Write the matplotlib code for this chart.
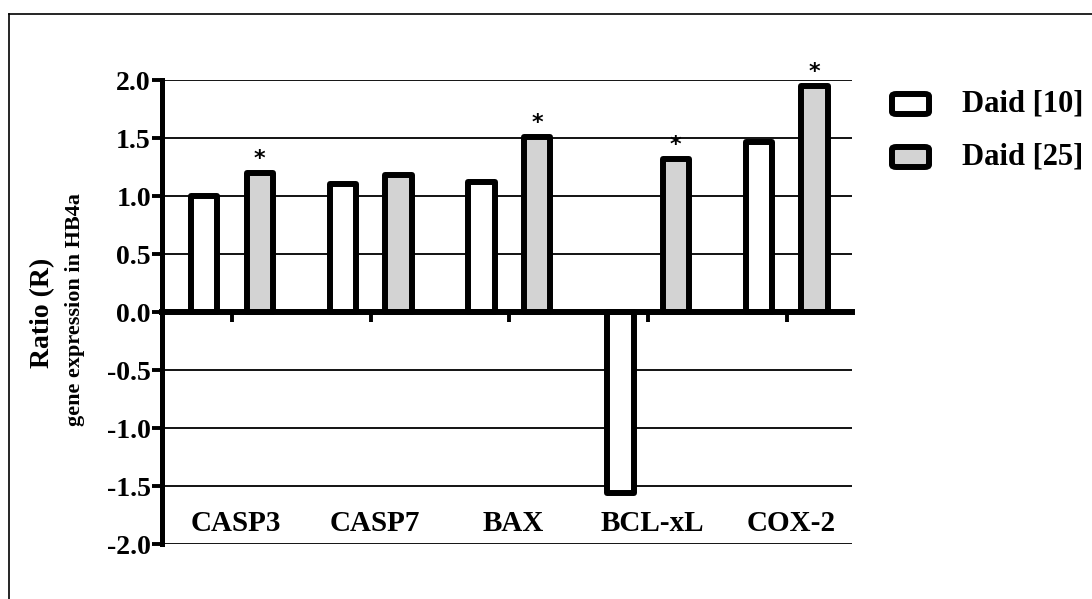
import matplotlib.pyplot as plt
from matplotlib import patches
from matplotlib.lines import Line2D
import numpy as np

# Data
genes = ["CASP3", "CASP7", "BAX", "BCL-xL", "COX-2"]
daid_10 = [1.00, 1.10, 1.12, -1.56, 1.47]
daid_25 = [1.20, 1.18, 1.51, 1.32, 1.95]
signif_25 = [True, False, True, True, True]
series_names = ["Daid [10]", "Daid [25]"]

# Style
SERIF = ["Liberation Serif", "DejaVu Serif"]
BAR_W = 0.19
OFFSET = 0.2
EDGE_W = 4.3
GREY = "#d3d3d3"

fig = plt.figure(figsize=(10.92, 5.99), dpi=100)
ax = fig.add_axes([0.1484, 0.0918, 0.6318, 0.7746])

x = np.arange(len(genes))
ax.bar(x - OFFSET, daid_10, width=BAR_W, color="white", edgecolor="black",
       linewidth=EDGE_W, zorder=3, joinstyle="round")
ax.bar(x + OFFSET, daid_25, width=BAR_W, color=GREY, edgecolor="black",
       linewidth=EDGE_W, zorder=3, joinstyle="round")

for xi, v, s in zip(x, daid_25, signif_25):
    if s:
        ax.text(xi + OFFSET, v + 0.03, "*", ha="center", va="bottom",
                fontsize=16, fontweight="bold", family="DejaVu Sans")

ax.set_xlim(-0.504, 4.47)
ax.set_ylim(-2.0, 2.0)
ax.set_yticks(np.arange(-2.0, 2.01, 0.5))
ax.set_yticklabels([f"{t:.1f}" for t in np.arange(-2.0, 2.01, 0.5)],
                   family=SERIF, fontweight="bold", fontsize=20)
ax.set_xticks(x)
ax.set_xticklabels([])

for t in np.arange(-2.0, 2.01, 0.5):
    if abs(t) > 1e-9:
        ax.axhline(t, color="black", lw=1.3, zorder=1)

for side in ["top", "right"]:
    ax.spines[side].set_visible(False)
ax.spines["left"].set_linewidth(3.6)
ax.spines["bottom"].set_position(("data", 0))
ax.spines["bottom"].set_linewidth(4.3)
ax.spines["bottom"].set_zorder(5)
ax.spines["left"].set_zorder(5)
ax.tick_params(axis="y", direction="out", length=7, width=2.8, pad=1)
ax.tick_params(axis="x", direction="out", length=7, width=2.8)

for xi, g in zip(x, genes):
    ax.text(xi + 0.03, -1.82, g, ha="center", va="center", family=SERIF,
            fontweight="bold", fontsize=21)

fig.text(0.039, 0.4775, "Ratio (R)", rotation=90, ha="center", va="center",
         family=SERIF, fontweight="bold", fontsize=20)
fig.text(0.069, 0.4825, "gene expression in HB4a", rotation=90, ha="center",
         va="center", family=SERIF, fontweight="bold", fontsize=16)

# legend drawn by hand
W, H = 1092, 599
for i, (name, fc) in enumerate(zip(series_names, ["white", GREY])):
    yc = 104 + i * 53
    box = patches.FancyBboxPatch((892 / W, 1 - (yc + 10) / H), 37 / W, 20 / H,
                                 boxstyle="round,pad=0,rounding_size=0.004",
                                 transform=fig.transFigure, facecolor=fc,
                                 edgecolor="black", linewidth=4.3)
    fig.add_artist(box)
    fig.text(962 / W, 1 - yc / H, name, ha="left", va="center", family=SERIF,
             fontweight="bold", fontsize=22)

# outer frame (top and left edges)
fig.add_artist(Line2D([9 / W, 1], [1 - 14 / H, 1 - 14 / H], color="black", lw=1.2,
                      transform=fig.transFigure))
fig.add_artist(Line2D([9 / W, 9 / W], [0, 1 - 14 / H], color="black", lw=1.2,
                      transform=fig.transFigure))

fig.savefig("out.png", dpi=100)
